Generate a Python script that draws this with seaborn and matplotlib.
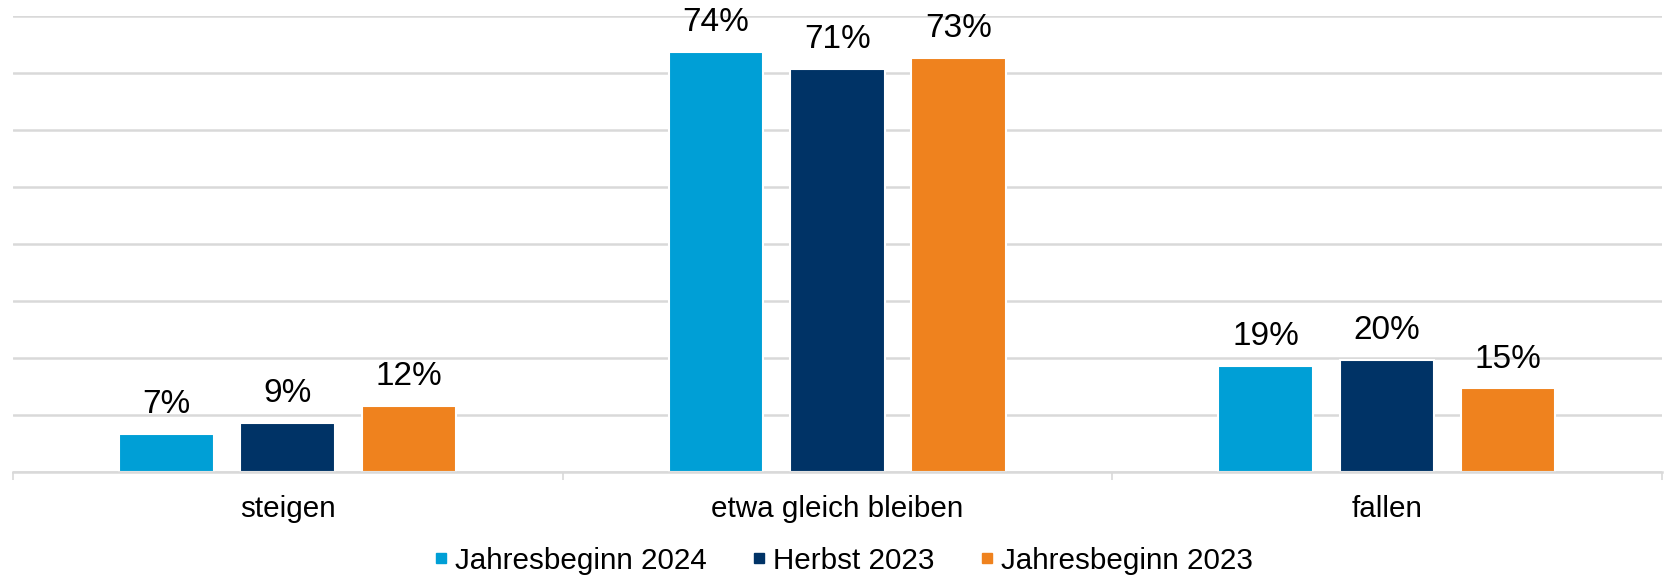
import matplotlib
matplotlib.use("Agg")
import matplotlib.pyplot as plt
from matplotlib.lines import Line2D
import seaborn as sns
import pandas as pd

categories = ["steigen", "etwa gleich bleiben", "fallen"]
series = ["Jahresbeginn 2024", "Herbst 2023", "Jahresbeginn 2023"]
jahresbeginn_2024 = [6.6, 73.7, 18.6]
herbst_2023 = [8.6, 70.6, 19.6]
jahresbeginn_2023 = [11.6, 72.6, 14.6]
colors = ["#009FD6", "#003366", "#EF821E"]

rows = []
for s, vals in zip(series, [jahresbeginn_2024, herbst_2023, jahresbeginn_2023]):
    for c, v in zip(categories, vals):
        rows.append({"Kategorie": c, "Serie": s, "Wert": v})
df = pd.DataFrame(rows)

sns.set_theme(style="white")
plt.rcParams["font.family"] = ["Liberation Sans", "DejaVu Sans"]

fig = plt.figure(figsize=(16.67, 5.78), dpi=100)
ax = fig.add_axes([0.0078, 0.184, 0.989, 0.789])

sns.barplot(data=df, x="Kategorie", y="Wert", hue="Serie", order=categories,
            hue_order=series, palette=colors, saturation=1, width=0.662, gap=0.22,
            edgecolor="white", linewidth=1.5, ax=ax, legend=False)

for cont in ax.containers:
    ax.bar_label(cont, labels=[f"{round(b.get_height()):d}%" for b in cont],
                 padding=10, fontsize=24, color="black")

ax.set_ylim(0, 80)
ax.set_xlim(-0.5, 2.5)
ax.set_yticks(range(0, 81, 10))
ax.yaxis.grid(True, color="#D9D9D9", linewidth=1.8)
ax.set_axisbelow(True)
ax.tick_params(axis="y", left=False, labelleft=False)
ax.set_xticks([-0.5, 0.5, 1.5, 2.5], minor=True)
ax.tick_params(axis="x", which="major", length=0, labelsize=21.3, pad=17, colors="black")
ax.tick_params(axis="x", which="minor", length=6, width=1.2, color="#D9D9D9", bottom=True)
ax.set_xlabel("")
ax.set_ylabel("")
for sp in ["top", "left", "right"]:
    ax.spines[sp].set_visible(False)
ax.spines["bottom"].set_color("#D9D9D9")
ax.spines["bottom"].set_linewidth(1.8)

handles = [Line2D([0], [0], marker="s", linestyle="", markersize=7.9,
                  markerfacecolor=c, markeredgecolor=c) for c in colors]
fig.legend(handles, series, loc="center", bbox_to_anchor=(0.506, 0.03), ncol=3,
           frameon=False, fontsize=21.3, handletextpad=0.25, columnspacing=1.55,
           handlelength=0.45, labelcolor="black", borderpad=0, borderaxespad=0)

fig.savefig("out.png", dpi=100, facecolor="white")
